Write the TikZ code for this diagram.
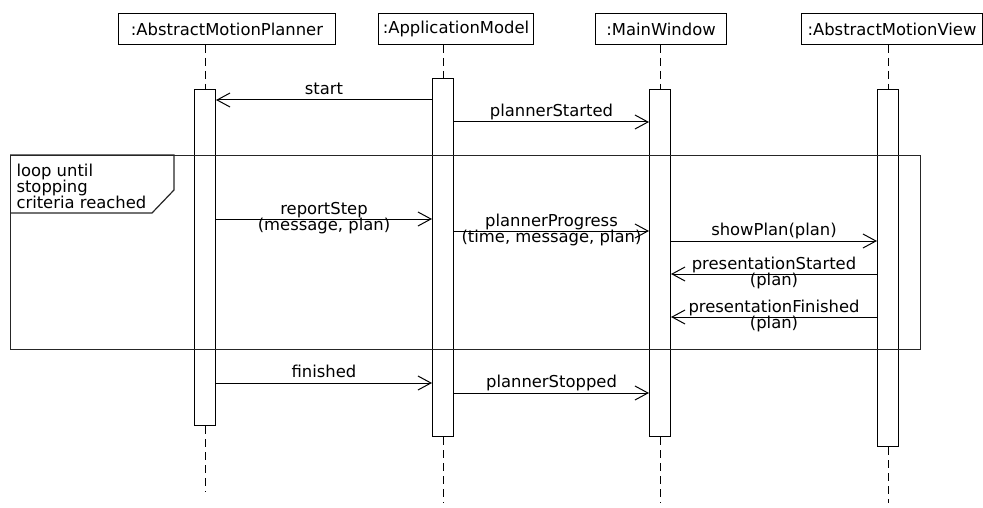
\documentclass[tikz,border=0pt]{standalone}
\usepackage{fontspec}
\setmainfont{DejaVu Sans}
\usetikzlibrary{arrows.meta}

\begin{document}
\begin{tikzpicture}[
  x=1pt, y=-1pt, line width=1pt,
  font=\fontsize{16.4}{16}\selectfont,
  obj/.style={draw, minimum height=31pt, inner sep=0pt, anchor=north west},
  act/.style={draw, minimum width=21pt, inner sep=0pt, anchor=north},
  life/.style={dash pattern=on 8pt off 5pt},
  msg/.style={-{Straight Barb[length=13pt, width=14pt]}},
  lbl/.style={anchor=base, inner sep=0pt, yshift=5.5pt},
  lbltwo/.style={align=center, inner sep=0pt, yshift=1pt}
]
  \useasboundingbox (0,0) rectangle (983,508);

  % objects
  \node[obj, minimum width=217pt] (hdP) at (118,13) {:AbstractMotionPlanner};
  \node[obj, minimum width=155pt] (hdA) at (378,13) {:ApplicationModel};
  \node[obj, minimum width=131pt] (hdW) at (595,13) {:MainWindow};
  \node[obj, minimum width=181pt] (hdV) at (801,13) {:AbstractMotionView};

  % activations
  \node[act, minimum height=336pt] (barP) at (205,89) {};
  \node[act, minimum height=358pt] (barA) at (443,78) {};
  \node[act, minimum height=347pt] (barW) at (660,89) {};
  \node[act, minimum height=357pt] (barV) at (888,89) {};

  \foreach \b/\h/\e in {barP/hdP/492, barA/hdA/503, barW/hdW/503, barV/hdV/503} {
    \draw[life] (\h.south -| \b.north) -- (\b.north);
    \draw[life] (\b.south) -- (\b.south |- 0,\e);
  }

  % loop fragment
  \node[draw, black!85, line width=1.2pt, minimum width=910pt, minimum height=194pt,
        inner sep=0pt, anchor=north west] (loop) at (10,155) {};
  \draw[black!85, line width=1.2pt] (loop.north west) -- (174,155) -- (174,190)
    -- (152,213) -- (10,213);
  \node[align=left, anchor=north west, inner sep=0pt] (guard) at (16,163.5)
    {loop until\\stopping\\criteria reached};

  % messages
  \draw[msg] (barA.west |- 0,100) -- node[lbl] {start} (barP.east |- 0,100);
  \draw[msg] (barA.east |- 0,122) -- node[lbl] {plannerStarted} (barW.west |- 0,122);
  \draw[msg] (barP.east |- 0,219) -- node[lbltwo] {reportStep\\(message, plan)} (barA.west |- 0,219);
  \draw[msg] (barA.east |- 0,231) -- node[lbltwo] {plannerProgress\\(time, message, plan)} (barW.west |- 0,231);
  \draw[msg] (barW.east |- 0,241) -- node[lbl] {showPlan(plan)} (barV.west |- 0,241);
  \draw[msg] (barV.west |- 0,274) -- node[lbltwo] {presentationStarted\\(plan)} (barW.east |- 0,274);
  \draw[msg] (barV.west |- 0,317) -- node[lbltwo] {presentationFinished\\(plan)} (barW.east |- 0,317);
  \draw[msg] (barP.east |- 0,383) -- node[lbl] {finished} (barA.west |- 0,383);
  \draw[msg] (barA.east |- 0,393) -- node[lbl] {plannerStopped} (barW.west |- 0,393);
\end{tikzpicture}
\end{document}
